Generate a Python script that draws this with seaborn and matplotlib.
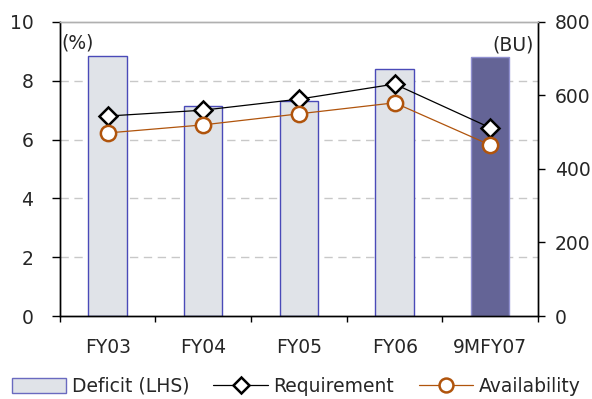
import numpy as np
import pandas as pd
import matplotlib
matplotlib.use("Agg")
import matplotlib.pyplot as plt
import seaborn as sns
from matplotlib.patches import Patch
from matplotlib.lines import Line2D

periods = ["FY03", "FY04", "FY05", "FY06", "9MFY07"]
deficit = [8.85, 7.13, 7.31, 8.40, 8.82]
requirement = [544, 560, 590, 631, 512]
availability = [498, 520, 550, 580, 465]

sns.set_style("white")
plt.rcParams['font.family'] = ['DejaVu Sans']
fs = 13.5

df = pd.DataFrame({"period": periods, "deficit": deficit,
                   "requirement": requirement, "availability": availability,
                   "pos": np.arange(len(periods))})

fig = plt.figure(figsize=(5.92, 3.99), dpi=100)
ax = fig.add_axes([0.101, 0.208, 0.808, 0.737])

bar_colors = ["#e0e3e8"] * 4 + ["#646496"]
sns.barplot(data=df, x="period", y="deficit", hue="period", palette=bar_colors,
            width=0.4, legend=False, ax=ax, saturation=1)
for i, p in enumerate(ax.patches):
    p.set_edgecolor("#4a4ab8" if i < 4 else "#9090d0")
    p.set_linewidth(1.0)

ax.set_ylim(0, 10)
ax.set_xlim(-0.5, 4.5)
ax.set_yticks([0, 2, 4, 6, 8, 10])
for y in [2, 4, 6, 8]:
    ax.axhline(y, color="#c8c8c8", lw=1, ls=(0, (6, 4)), zorder=0)
ax.set_xlabel("")
ax.set_ylabel("")

ax2 = ax.twinx()
sns.lineplot(data=df, x="pos", y="requirement", ax=ax2, color="black", lw=0.9,
             marker="D", markersize=9.5, markerfacecolor="white",
             markeredgecolor="black", markeredgewidth=1.8)
sns.lineplot(data=df, x="pos", y="availability", ax=ax2, color="#b0540c", lw=0.9,
             marker="o", markersize=11, markerfacecolor="white",
             markeredgecolor="#b0540c", markeredgewidth=1.8)
ax2.set_ylim(0, 800)
ax2.set_yticks([0, 200, 400, 600, 800])
ax2.set_xlim(-0.5, 4.5)
ax2.set_ylabel("")
ax2.set_xlabel("")

# x ticks: labels at centres, marks at boundaries
ax.set_xticks(range(len(periods)))
ax.set_xticklabels(periods)
ax.set_xticks(np.arange(-0.5, 5, 1), minor=True)
ax.tick_params(axis="x", which="major", bottom=True, length=0, pad=16, labelsize=fs)
ax.tick_params(axis="x", which="minor", bottom=True, length=4.5, width=1,
               color="black", direction="out")
ax.tick_params(axis="y", left=True, length=6, width=1, color="black",
               direction="out", labelsize=fs, pad=13)
ax2.tick_params(axis="y", right=True, length=5, width=1, color="black",
                direction="out", labelsize=fs, pad=7)

for a in (ax, ax2):
    for s in ["left", "right", "bottom"]:
        a.spines[s].set_color("black")
        a.spines[s].set_linewidth(1.0)
    a.spines["top"].set_color("#b0b0b0")
    a.spines["top"].set_linewidth(1.0)

ax.text(0.004, 0.96, "(%)", transform=ax.transAxes, ha="left", va="top", fontsize=fs)
ax2.text(0.99, 0.955, "(BU)", transform=ax.transAxes, ha="right", va="top", fontsize=fs)

handles = [
    Patch(facecolor="#e0e3e8", edgecolor="#6a6ac0", lw=1.0),
    Line2D([0], [0], color="black", lw=0.9, marker="D", markersize=8,
           markerfacecolor="white", markeredgecolor="black", markeredgewidth=1.8),
    Line2D([0], [0], color="#b0540c", lw=0.9, marker="o", markersize=10,
           markerfacecolor="white", markeredgecolor="#b0540c", markeredgewidth=1.8),
]
fig.legend(handles, ["Deficit (LHS)", "Requirement", "Availability"],
           loc="lower center", bbox_to_anchor=(0.5, -0.02), ncol=3, frameon=False,
           fontsize=fs, handlelength=2.9, handleheight=0.85, columnspacing=1.3,
           handletextpad=0.3, borderaxespad=0.2)

fig.savefig("out.png", dpi=100)
